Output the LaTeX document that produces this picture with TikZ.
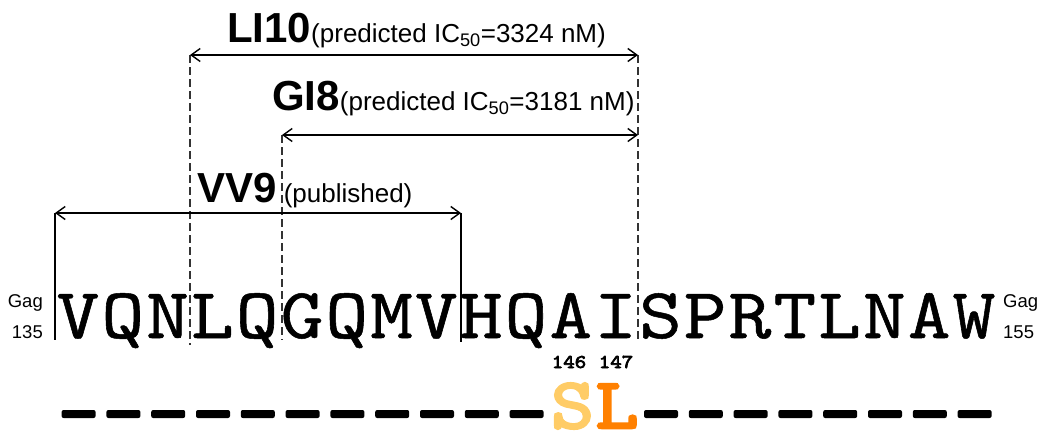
\documentclass[tikz,border=0pt]{standalone}
\usepackage{fontspec}
\setmainfont{Liberation Sans}
\newfontfamily\seqfont[FakeBold=0.7]{lmmono10-regular.otf}
\newfontfamily\seqbold[FakeBold=3.5]{lmmono10-regular.otf}
\usepackage{graphicx}
\usetikzlibrary{arrows.meta}
\definecolor{lightor}{RGB}{255,204,102}
\definecolor{darkor}{RGB}{255,128,0}
\newcommand\sqlet[1]{\scalebox{1.13}[1]{#1}}
\newcommand\numlet[1]{\scalebox{1.12}[1]{#1}}
\begin{document}
\begin{tikzpicture}[x=1pt,y=-1pt,
  dim/.style={line width=1.4pt,{Straight Barb[length=9pt,width=13pt]}-{Straight Barb[length=9pt,width=13pt]}},
  guide/.style={line width=1.3pt,black!80,dash pattern=on 8pt off 4pt},
  solidguide/.style={line width=1.3pt},
  seq/.style={inner sep=0,anchor=base,font=\seqfont\fontsize{72}{72}\selectfont},
  mut/.style={inner sep=0,anchor=base,font=\seqbold\fontsize{72}{72}\selectfont},
  lbl/.style={inner sep=0,anchor=base west},
  gag/.style={inner sep=0,font=\fontsize{18.5}{18.5}\selectfont},
  posnum/.style={inner sep=0,anchor=base,font=\seqbold\fontsize{19.5}{19.5}\selectfont},
  dashbox/.style={fill=black,rounded corners=2pt}]
\useasboundingbox (0,0) rectangle (1045,431);
% guide coordinates
\coordinate (li-l) at (190,55);
\coordinate (li-r) at (638,55);
\coordinate (gi-l) at (282,135);
\coordinate (gi-r) at (638,135);
\coordinate (vv-l) at (55,213);
\coordinate (vv-r) at (461,213);
\coordinate (li-lb) at (190,345);
\coordinate (li-rb) at (638,340);
\coordinate (gi-lb) at (282,340);
\coordinate (vv-lb) at (55,340);
\coordinate (vv-rb) at (461,342);
% guides
\draw[guide] (li-l) -- (li-lb);
\draw[guide] (li-r) -- (li-rb);
\draw[guide] (gi-l) -- (gi-lb);
\draw[solidguide] (vv-l) -- (vv-lb);
\draw[solidguide] (vv-r) -- (vv-rb);
% dimension arrows
\draw[dim] (li-l) -- (li-r);
\draw[dim] (gi-l) -- (gi-r);
\draw[dim] (vv-l) -- (vv-r);
% labels
\node[lbl] (li10) at (227,42) {\fontsize{42}{42}\selectfont\bfseries LI10\fontsize{26}{26}\selectfont\mdseries(predicted IC\textsubscript{50}=3324 nM)};
\node[lbl] (gi8) at (272,110) {\fontsize{42}{42}\selectfont\bfseries GI8\fontsize{26}{26}\selectfont\mdseries(predicted IC\textsubscript{50}=3181 nM)};
\node[lbl] (vv9) at (197,202) {\fontsize{42}{42}\selectfont\bfseries VV9\fontsize{26}{26}\selectfont\mdseries\ (published)};
% sequence
\foreach \c [count=\i from 0] in {V,Q,N,L,Q,G,Q,M,V,H,Q,A,I,S,P,R,T,L,N,A,W}
  \node[seq] (s\i) at ({55.6+44.8*(\i+0.5)},338) {\sqlet{\c}};
% Gag labels
\node[gag,anchor=base east] (gl1) at (43,307) {Gag};
\node[gag,anchor=base east] (gl2) at (43,338) {135};
\node[gag,anchor=base west] (gr1) at (1003,307) {Gag};
\node[gag,anchor=base west] (gr2) at (1003,338) {155};
% positions
\node[posnum] (p146) at (569,368) {\numlet{146}};
\node[posnum] (p147) at (616,368) {\numlet{147}};
% mutant line
\foreach \i in {0,...,10,13,14,...,20}
  \fill[dashbox] ({55.6+44.8*\i+6},410) rectangle ({55.6+44.8*\i+40},418);
\node[mut,text=lightor] (mS) at (572.5,428) {\sqlet{S}};
\node[mut,text=darkor] (mL) at (617,428) {\sqlet{L}};
\end{tikzpicture}
\end{document}
